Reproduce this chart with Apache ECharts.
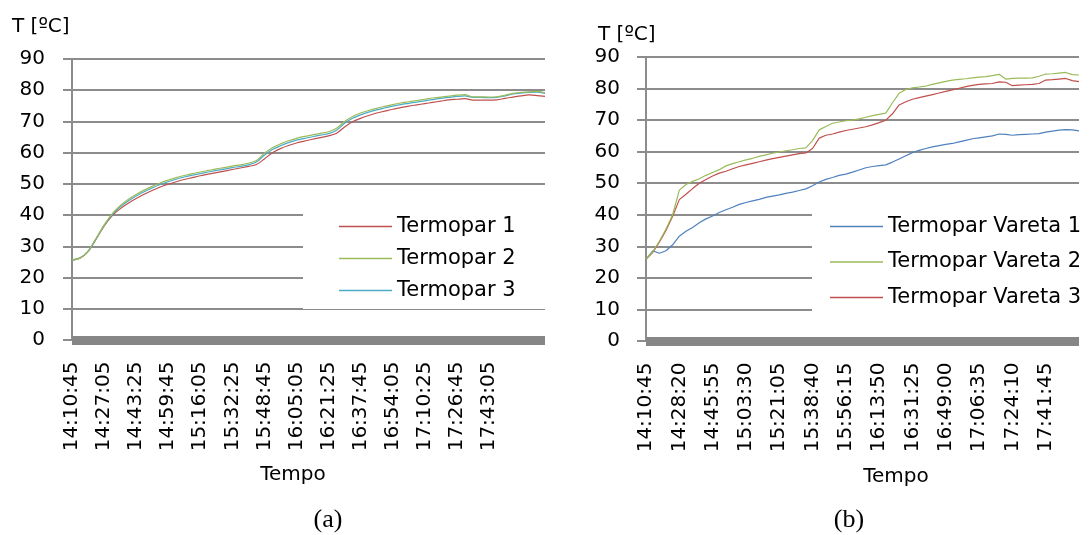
<!DOCTYPE html>
<html>
<head>
<meta charset="utf-8">
<script src="https://cdn.jsdelivr.net/npm/echarts@6/dist/echarts.min.js"></script>
<style>
  html, body { margin: 0; padding: 0; background: #fff; }
  #chart { width: 1092px; height: 535px; }
</style>
</head>
<body>
<div id="chart"></div>
<script>
// (a) thermocouples: sample times and labelled times
const timesA = ['14:10:45','14:14:50','14:18:55','14:23:00','14:27:05','14:31:10','14:35:15','14:39:20','14:43:25','14:47:30',
  '14:51:35','14:55:40','14:59:45','15:03:50','15:07:55','15:12:00','15:16:05','15:20:10','15:24:15','15:28:20',
  '15:32:25','15:36:30','15:40:35','15:44:40','15:48:45','15:52:50','15:56:55','16:01:00','16:05:05','16:09:10',
  '16:13:15','16:17:20','16:21:25','16:25:30','16:29:35','16:33:40','16:37:45','16:41:50','16:45:55','16:50:00',
  '16:54:05','16:58:10','17:02:15','17:06:20','17:10:25','17:14:30','17:18:35','17:22:40','17:26:45','17:30:50',
  '17:34:55','17:39:00','17:43:05','17:47:10','17:51:15','17:55:20','17:59:25','18:03:30','18:07:35','18:11:40'];
const ticksA = ['14:10:45','14:27:05','14:43:25','14:59:45','15:16:05','15:32:25','15:48:45','16:05:05','16:21:25',
  '16:37:45','16:54:05','17:10:25','17:26:45','17:43:05'];

const termopar1 = [25.6,26.2,28.3,32.3,36.5,39.8,42.0,43.8,45.3,46.7,
  47.9,49.0,49.9,50.7,51.4,52.0,52.6,53.1,53.6,54.1,
  54.6,55.1,55.6,56.2,58.0,60.0,61.3,62.3,63.1,63.7,
  64.3,64.8,65.4,66.2,68.2,69.9,71.0,71.9,72.7,73.3,
  73.9,74.4,74.9,75.3,75.7,76.1,76.5,76.9,77.1,77.3,
  76.8,76.8,76.8,76.9,77.4,77.8,78.2,78.5,78.3,78.0];
const termopar2 = [25.6,26.3,28.5,32.5,36.8,40.4,43.0,45.0,46.6,48.0,
  49.2,50.3,51.2,52.0,52.7,53.3,53.8,54.3,54.8,55.2,
  55.7,56.1,56.6,57.5,59.8,61.6,62.8,63.8,64.6,65.2,
  65.7,66.2,66.7,67.8,70.0,71.6,72.7,73.5,74.2,74.8,
  75.4,75.9,76.3,76.7,77.1,77.5,77.8,78.1,78.4,78.6,
  77.9,77.9,77.8,77.9,78.4,79.0,79.3,79.5,79.6,79.2];
const termopar3 = [25.6,26.3,28.4,32.4,36.7,40.1,42.6,44.5,46.1,47.5,
  48.7,49.8,50.7,51.5,52.2,52.8,53.3,53.8,54.3,54.7,
  55.2,55.6,56.1,57.0,59.2,61.0,62.2,63.2,64.0,64.6,
  65.1,65.6,66.1,67.2,69.4,71.0,72.1,73.0,73.7,74.3,
  74.9,75.4,75.8,76.2,76.6,77.0,77.4,77.7,78.0,78.2,
  77.7,77.7,77.6,77.7,78.2,78.8,79.1,79.3,79.4,79.0];

// (b) rod thermocouples
const timesB = ['14:10:45','14:14:16','14:17:47','14:21:18','14:24:49','14:28:20','14:31:51','14:35:22','14:38:53','14:42:24',
  '14:45:55','14:49:26','14:52:57','14:56:28','14:59:59','15:03:30','15:07:01','15:10:32','15:14:03','15:17:34',
  '15:21:05','15:24:36','15:28:07','15:31:38','15:35:09','15:38:40','15:42:11','15:45:42','15:49:13','15:52:44',
  '15:56:15','15:59:46','16:03:17','16:06:48','16:10:19','16:13:50','16:17:21','16:20:52','16:24:23','16:27:54',
  '16:31:25','16:34:56','16:38:27','16:41:58','16:45:29','16:49:00','16:52:31','16:56:02','16:59:33','17:03:04',
  '17:06:35','17:10:06','17:13:37','17:17:08','17:20:39','17:24:10','17:27:41','17:31:12','17:34:43','17:38:14',
  '17:41:45','17:45:16','17:48:47','17:52:18','17:55:49','17:59:20'];
const ticksB = ['14:10:45','14:28:20','14:45:55','15:03:30','15:21:05','15:38:40','15:56:15','16:13:50','16:31:25',
  '16:49:00','17:06:35','17:24:10','17:41:45'];

const vareta1 = [25.9,28.6,27.8,28.6,30.5,33.2,34.8,36.0,37.5,38.7,
  39.6,40.7,41.6,42.4,43.3,43.9,44.4,44.9,45.5,45.9,
  46.3,46.8,47.2,47.7,48.2,49.2,50.4,51.2,51.8,52.5,
  52.9,53.5,54.2,54.9,55.3,55.6,55.8,56.7,57.7,58.7,
  59.7,60.4,61.0,61.5,61.9,62.3,62.6,63.1,63.6,64.1,
  64.4,64.7,65.0,65.6,65.5,65.2,65.4,65.5,65.6,65.7,
  66.2,66.5,66.8,67.0,66.9,66.6];
const vareta2 = [25.9,28.2,31.6,35.5,40.0,47.8,49.6,50.6,51.4,52.5,
  53.4,54.3,55.5,56.2,56.8,57.4,57.9,58.5,59.0,59.5,
  59.9,60.3,60.6,61.0,61.2,63.5,66.9,68.0,69.0,69.4,
  69.8,70.0,70.4,70.9,71.4,71.8,72.2,75.5,78.5,79.7,
  80.2,80.5,80.8,81.3,81.8,82.3,82.7,82.9,83.1,83.4,
  83.6,83.8,84.1,84.5,83.0,83.2,83.3,83.3,83.4,83.9,
  84.6,84.7,84.9,85.1,84.4,84.3];
const vareta3 = [25.9,28.0,31.3,35.0,39.5,44.8,46.5,48.3,50.0,51.2,
  52.3,53.2,53.8,54.6,55.3,55.8,56.3,56.8,57.3,57.8,
  58.2,58.6,59.0,59.4,59.6,61.0,64.3,65.2,65.6,66.2,
  66.7,67.1,67.5,67.9,68.5,69.2,70.0,72.0,74.8,75.8,
  76.6,77.1,77.6,78.1,78.6,79.1,79.6,80.1,80.6,81.0,
  81.3,81.5,81.6,82.1,82.0,80.9,81.1,81.2,81.3,81.6,
  82.7,82.8,83.0,83.2,82.5,82.2];

const FONT = 'DejaVu Sans';
const GRAY = '#8c8c8c';

function yAxisFor(gridIndex, margin) {
  return {
    type: 'value', gridIndex: gridIndex, min: 0, max: 90, interval: 10,
    axisLine: { show: true, lineStyle: { color: GRAY, width: 2 } },
    axisTick: { show: true, inside: false, length: 9, lineStyle: { color: GRAY, width: 2 } },
    splitLine: { show: true, lineStyle: { color: GRAY, width: 1.8 } },
    axisLabel: { color: '#000', fontFamily: FONT, fontSize: 20, margin: margin }
  };
}

function xAxisFor(gridIndex, cats, ticks) {
  return {
    type: 'category', gridIndex: gridIndex, data: cats, boundaryGap: false, offset: 4.5,
    axisLine: { show: true, lineStyle: { color: '#868686', width: 9, cap: 'butt' } },
    axisTick: { show: false },
    splitLine: { show: false },
    axisLabel: {
      rotate: 90, color: '#000', fontFamily: FONT, fontSize: 20, margin: 17,
      interval: function (idx, val) { return ticks.indexOf(val) >= 0; }
    }
  };
}

function lineSeries(name, data, color, axisIndex, smooth) {
  return {
    type: 'line', name: name, data: data, xAxisIndex: axisIndex, yAxisIndex: axisIndex,
    symbol: 'none', smooth: smooth, lineStyle: { color: color, width: 1.2 },
    itemStyle: { color: color }, animation: false
  };
}

function legendFor(names, left, top, gap, padding) {
  return {
    data: names, orient: 'vertical', left: left, top: top, itemGap: gap,
    icon: 'rect', itemWidth: 53, itemHeight: 1.4, padding: padding, backgroundColor: '#ffffff',
    selectedMode: false,
    textStyle: { color: '#000', fontFamily: FONT, fontSize: 21, lineHeight: 21 }
  };
}

function label(text, x, y, size, family, align) {
  return {
    type: 'text', x: x, y: y, z: 10,
    style: { text: text, fill: '#000', font: size + 'px "' + family + '"',
             textAlign: align || 'center', textVerticalAlign: 'middle' }
  };
}

const chart = echarts.init(document.getElementById('chart'), null, { renderer: 'canvas' });
chart.setOption({
  backgroundColor: '#ffffff',
  animation: false,
  grid: [
    { left: 72, top: 59, width: 473, height: 281 },
    { left: 646, top: 57, width: 433, height: 284 }
  ],
  xAxis: [xAxisFor(0, timesA, ticksA), xAxisFor(1, timesB, ticksB)],
  yAxis: [yAxisFor(0, 27), yAxisFor(1, 26)],
  legend: [
    legendFor(['Termopar 1', 'Termopar 2', 'Termopar 3'], 303, 200, 11, [16, 40, 8, 36]),
    legendFor(['Termopar Vareta 1', 'Termopar Vareta 2', 'Termopar Vareta 3'], 812, 200, 14.5, [16, 4, 14, 18])
  ],
  series: [
    lineSeries('Termopar 1', termopar1, '#c0504d', 0, 0.3),
    lineSeries('Termopar 3', termopar3, '#4bacc6', 0, 0.3),
    lineSeries('Termopar 2', termopar2, '#9bbb59', 0, 0.3),
    lineSeries('Termopar Vareta 1', vareta1, '#4f81bd', 1, false),
    lineSeries('Termopar Vareta 3', vareta3, '#c0504d', 1, false),
    lineSeries('Termopar Vareta 2', vareta2, '#9bbb59', 1, false)
  ],
  graphic: [
    label('T [ºC]', 12, 27, 20, FONT, 'left'),
    label('T [ºC]', 598, 35, 20, FONT, 'left'),
    label('Tempo', 293, 475, 20, FONT),
    label('Tempo', 896, 477, 20, FONT),
    label('(a)', 328, 520, 26, 'Liberation Serif'),
    label('(b)', 849, 520, 26, 'Liberation Serif')
  ]
});
</script>
</body>
</html>
